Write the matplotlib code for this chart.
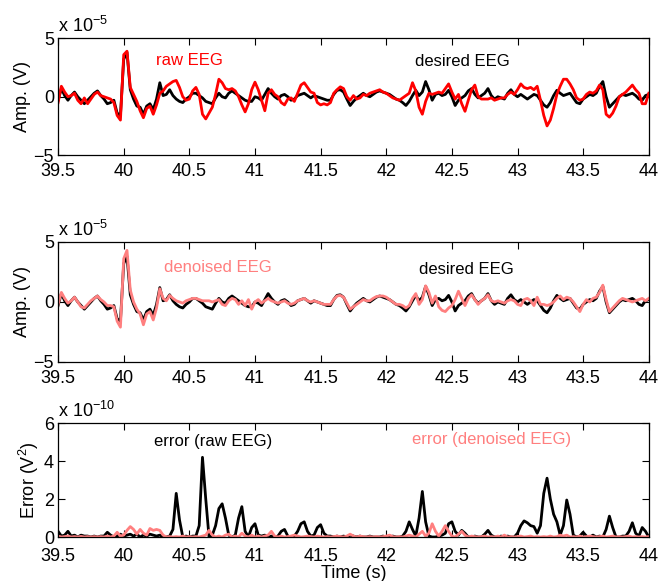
import numpy as np
import matplotlib
matplotlib.use('Agg')
import matplotlib.pyplot as plt

plt.rcParams['font.family'] = ['Liberation Sans', 'DejaVu Sans']
plt.rcParams['mathtext.fontset'] = 'custom'
plt.rcParams['mathtext.rm'] = 'Liberation Sans'
plt.rcParams['mathtext.it'] = 'Liberation Sans:italic'
plt.rcParams['lines.solid_joinstyle'] = 'round'

# sampled every 25 ms from 39.5 s to 44 s
t_start = 39.5
t_step = 0.025

# amplitudes in units of 1e-5 V
desired_eeg = [
    -0.3, 0.7, 0.1, -0.3, 0.1, 0.4, 0.0, -0.3, -0.6, -0.3,
    0.0, 0.3, 0.5, 0.1, -0.2, -0.6, -0.5, -0.3, -1.4, -1.6,
    3.2, 3.8, 0.6, -0.2, -0.8, -0.9, -1.5, -0.8, -0.6, -1.1,
    -0.2, 1.2, 0.1, 0.2, 0.6, 0.1, -0.2, -0.4, -0.5, -0.2,
    0.0, 0.3, 0.3, 0.1, -0.1, -0.4, -0.5, -0.6, -0.1, 0.3,
    0.0, -0.1, 0.3, 0.5, 0.3, 0.1, -0.1, -0.3, -0.4, -0.4,
    0.0, -0.1, -0.3, 0.2, 0.7, 0.3, 0.0, -0.2, 0.1, 0.2,
    0.0, -0.3, -0.2, 0.1, 0.2, 0.3, 0.1, -0.1, 0.1, 0.0,
    -0.1, -0.2, -0.3, -0.3, 0.2, 0.55, 0.6, 0.4, -0.2, -0.75,
    -0.4, -0.1, 0.1, 0.3, 0.1, 0.0, 0.2, 0.4, 0.5, 0.4,
    0.3, 0.2, 0.0, -0.2, -0.3, -0.5, -0.75, -0.4, 0.1, 0.55,
    0.1, 0.4, 1.3, 0.6, -0.3, 0.2, 0.3, 0.1, 0.2, 0.55,
    0.0, -0.75, -0.3, -0.1, 0.1, 0.5, 0.7, 0.2, -0.1, 0.1,
    0.3, 0.7, 0.1, -0.2, 0.0, -0.1, -0.2, 0.3, 0.6, 0.2,
    0.0, 0.2, 0.0, -0.2, 0.0, 0.2, 0.1, -0.3, -0.7, -0.9,
    -0.5, 0.1, 0.55, 0.3, 0.1, 0.2, 0.3, -0.1, -0.5, -0.6,
    -0.2, 0.0, 0.2, 0.1, 0.3, 0.9, 1.3, 0.0, -0.9, -0.6,
    -0.3, 0.0, 0.2, 0.1, 0.2, 0.3, 0.1, -0.2, -0.3, 0.1,
    0.2,
]

raw_eeg = [
    -0.5, 0.9, 0.4, 0.0, 0.1, 0.3, -0.3, -0.6, -0.1, -0.6,
    -0.2, 0.2, 0.4, 0.1, 0.0, -0.1, -0.2, -0.5, -1.6, -2.0,
    3.6, 3.9, 0.8, 0.2, -0.4, -1.2, -1.8, -1.0, -0.8, -1.5,
    -0.7, 0.3, 0.5, 0.9, 1.1, 1.3, 1.4, 0.8, 0.0, -0.3,
    -0.2, 0.5, 0.8, 0.2, -1.5, -1.9, -1.4, -0.9, 0.2, 1.5,
    1.2, 0.7, 0.6, 0.7, 0.5, 0.0, -0.7, -1.3, -0.6, 0.6,
    1.25, 0.6, -0.3, -1.2, 0.3, 0.6, 0.2, 0.0, -0.5, -0.7,
    -0.2, -0.1, -0.4, 0.3, 1.0, 1.2, 0.8, 0.4, 0.3, -0.5,
    -0.7, -0.6, -0.7, -0.5, 0.3, 0.6, 0.85, 0.7, 0.0, -0.3,
    0.1, -0.2, -0.1, 0.2, 0.1, 0.3, 0.4, 0.5, 0.6, 0.4,
    0.3, 0.1, -0.1, -0.2, -0.3, -0.1, 0.1, 0.3, 1.2, 0.5,
    -0.9, -1.5, -0.4, 0.3, 0.2, 0.3, 0.4, 0.3, 0.7, 1.1,
    0.4, -0.2, 0.2, -0.6, -1.25, -0.3, 0.6, 1.0, 0.0, -0.2,
    -0.2, -0.2, -0.1, -0.3, -0.2, -0.1, -0.1, 0.2, 0.4, 0.2,
    0.6, 1.1, 0.8, 0.7, 0.8, 0.6, 0.9, -0.3, -1.6, -2.5,
    -2.0, -1.0, 0.2, 0.9, 1.5, 1.5, 1.1, 0.6, -0.1, -0.3,
    -0.2, 0.2, 0.4, 0.3, 0.5, 1.0, 0.6, -1.5, -1.75, -1.4,
    -0.8, 0.0, 0.2, 0.4, 0.7, 1.0, 0.6, 0.3, -0.6, -0.6,
    0.3,
]

denoised_eeg = [
    -0.2, 0.8, 0.3, -0.1, 0.1, 0.4, 0.0, -0.4, -0.5, -0.2,
    0.1, 0.3, 0.5, 0.2, 0.0, -0.3, -0.3, -0.4, -1.6, -2.1,
    3.6, 4.3, 1.0, 0.0, -0.6, -1.0, -1.9, -1.0, -0.8, -1.5,
    -0.5, 1.1, 0.3, 0.1, 0.55, 0.3, 0.1, 0.0, -0.1, 0.1,
    0.2, 0.3, 0.3, 0.2, 0.1, 0.1, 0.1, 0.0, 0.1, 0.2,
    -0.2, -0.3, 0.1, 0.3, 0.2, -0.2, 0.1, -0.3, 0.2, -0.6,
    0.0, 0.2, -0.1, 0.1, 0.3, 0.1, 0.0, -0.1, 0.0, 0.1,
    -0.1, -0.2, -0.1, 0.1, 0.2, 0.3, 0.1, 0.0, 0.1, 0.0,
    -0.1, -0.2, -0.2, -0.2, 0.2, 0.5, 0.55, 0.4, -0.1, -0.6,
    -0.4, -0.2, 0.0, 0.2, 0.1, 0.1, 0.3, 0.45, 0.5, 0.5,
    0.4, 0.2, 0.0, -0.2, -0.2, -0.3, -0.5, -0.3, 0.3, 0.7,
    -0.2, 0.2, 1.35, 0.8, -0.1, 0.5, -0.4, -0.7, -0.8, -0.5,
    -0.3, 0.2, 0.9, 0.3, -0.3, 0.3, 0.6, 0.2, -0.2, 0.1,
    0.3, 0.6, 0.1, 0.0, 0.1, 0.0, -0.1, 0.1, 0.2, 0.1,
    -0.2, -0.3, 0.2, 0.3, 0.1, -0.3, 0.4, -0.2, -0.2, -0.3,
    -0.2, 0.0, 0.3, 0.5, 0.2, 0.4, 0.3, 0.0, -0.4, -0.8,
    -0.2, 0.2, 0.0, 0.3, 0.4, 0.8, 1.4, 0.2, -0.8, -0.5,
    -0.2, 0.1, 0.3, 0.2, 0.1, 0.0, 0.1, 0.2, 0.3, 0.1,
    0.3,
]

# squared errors in units of 1e-10 V^2
error_raw = [
    0.3, 0.05, 0.1, 0.3, 0.05, 0.1, 0.0, 0.1, 0.05, 0.05,
    0.0, 0.05, 0.0, 0.05, 0.05, 0.25, 0.1, 0.0, 0.05, 0.15,
    0.05, 0.1, 0.15, 0.05, 0.15, 0.0, 0.1, 0.05, 0.15, 0.1,
    0.05, 0.1, 0.0, 0.0, 0.05, 0.4, 2.3, 0.9, 0.0, 0.05,
    0.0, 0.05, 0.05, 0.6, 4.2, 2.0, 0.0, 0.1, 0.6, 1.5,
    1.75, 1.0, 0.1, 0.0, 0.1, 1.0, 1.6, 0.3, 0.0, 0.5,
    0.7, 0.1, 0.05, 0.1, 0.0, 0.05, 0.0, 0.05, 0.3, 0.4,
    0.05, 0.0, 0.05, 0.3, 0.7, 0.8, 0.3, 0.05, 0.1, 0.5,
    0.65, 0.2, 0.05, 0.05, 0.0, 0.05, 0.0, 0.05, 0.0, 0.1,
    0.05, 0.0, 0.05, 0.0, 0.0, 0.05, 0.0, 0.0, 0.0, 0.05,
    0.0, 0.0, 0.05, 0.0, 0.0, 0.05, 0.3, 0.8, 0.4, 0.05,
    1.0, 2.4, 0.8, 0.05, 0.0, 0.0, 0.05, 0.1, 0.2, 0.7,
    0.8, 0.3, 0.1, 0.35, 0.2, 0.0, 0.0, 0.05, 0.0, 0.0,
    0.15, 0.35, 0.1, 0.0, 0.0, 0.05, 0.0, 0.05, 0.0, 0.0,
    0.2, 0.6, 0.85, 0.75, 0.6, 0.55, 0.2, 0.6, 2.3, 3.1,
    2.0, 1.2, 0.8, 0.1, 0.6, 1.95, 1.2, 0.1, 0.0, 0.05,
    0.25, 0.05, 0.0, 0.1, 0.0, 0.05, 0.0, 0.4, 1.1, 0.5,
    0.0, 0.0, 0.05, 0.05, 0.3, 0.75, 0.2, 0.05, 0.5, 0.3,
    0.0,
]

error_denoised = [
    0.05, 0.0, 0.02, 0.05, 0.0, 0.02, 0.0, 0.03, 0.0, 0.02,
    0.0, 0.02, 0.0, 0.02, 0.0, 0.05, 0.0, 0.05, 0.25, 0.05,
    0.1, 0.35, 0.55, 0.4, 0.15, 0.4, 0.2, 0.1, 0.45, 0.35,
    0.4, 0.35, 0.1, 0.0, 0.02, 0.0, 0.02, 0.0, 0.05, 0.0,
    0.02, 0.0, 0.02, 0.0, 0.05, 0.1, 0.35, 0.1, 0.0, 0.05,
    0.0, 0.1, 0.15, 0.0, 0.05, 0.0, 0.2, 0.05, 0.0, 0.1,
    0.0, 0.05, 0.0, 0.05, 0.1, 0.3, 0.05, 0.0, 0.05, 0.0,
    0.02, 0.05, 0.1, 0.05, 0.0, 0.02, 0.05, 0.02, 0.0, 0.05,
    0.02, 0.0, 0.02, 0.0, 0.02, 0.05, 0.02, 0.0, 0.05, 0.15,
    0.05, 0.0, 0.05, 0.02, 0.0, 0.02, 0.0, 0.02, 0.0, 0.02,
    0.05, 0.1, 0.02, 0.0, 0.02, 0.0, 0.05, 0.1, 0.05, 0.0,
    0.15, 0.3, 0.05, 0.2, 0.7, 0.3, 0.05, 0.3, 0.6, 0.3,
    0.05, 0.0, 0.15, 0.3, 0.1, 0.0, 0.05, 0.02, 0.0, 0.02,
    0.05, 0.0, 0.02, 0.0, 0.05, 0.0, 0.1, 0.0, 0.02, 0.0,
    0.02, 0.05, 0.0, 0.02, 0.05, 0.0, 0.02, 0.0, 0.02, 0.0,
    0.05, 0.0, 0.02, 0.1, 0.05, 0.1, 0.0, 0.02, 0.0, 0.05,
    0.0, 0.02, 0.05, 0.02, 0.0, 0.02, 0.05, 0.0, 0.02, 0.05,
    0.0, 0.02, 0.0, 0.02, 0.05, 0.0, 0.02, 0.0, 0.02, 0.0,
    0.02,
]

x_ticks = [39.5, 40, 40.5, 41, 41.5, 42, 42.5, 43, 43.5, 44]
x_ticklabels = ['39.5', '40', '40.5', '41', '41.5', '42', '42.5', '43', '43.5', '44']

RED = '#ff0000'
PINK = '#ff7f7f'
FS = 13


def style_axes(ax, yticks, ylim, exponent, ylabel, xpad=6):
    ax.set_xlim(39.5, 44)
    ax.set_ylim(*ylim)
    ax.set_xticks(x_ticks)
    ax.set_xticklabels(x_ticklabels)
    ax.set_yticks(yticks)
    ax.tick_params(direction='in', top=True, right=True, length=5,
                   width=0.8, labelsize=FS)
    ax.tick_params(axis='x', pad=xpad)
    ax.tick_params(axis='y', pad=3)
    for s in ax.spines.values():
        s.set_linewidth(0.9)
    ax.set_ylabel(ylabel, fontsize=FS, labelpad=2)
    ax.text(0.0, 1.02, r'x 10$^{\mathregular{%s}}$' % exponent, transform=ax.transAxes,
            ha='left', va='bottom', fontsize=FS)


t = t_start + t_step * np.arange(len(desired_eeg))
des = np.array(desired_eeg)
raw = np.array(raw_eeg)
den = np.array(denoised_eeg)
e_raw = np.array(error_raw)
e_den = np.array(error_denoised)

fig = plt.figure(figsize=(6.6, 5.81), dpi=100)

ax1 = fig.add_axes([0.088, 0.733, 0.895, 0.201])
ax1.plot(t, des, color='black', linewidth=2)
ax1.plot(t, raw, color=RED, linewidth=2)
ax1.text(40.5, 3.1, 'raw EEG', color=RED, fontsize=12, ha='center', va='center')
ax1.text(42.58, 3.0, 'desired EEG', color='black', fontsize=12, ha='center', va='center')
style_axes(ax1, [-5, 0, 5], (-5, 5), '\u22125', 'Amp. (V)')

ax2 = fig.add_axes([0.088, 0.377, 0.895, 0.2065])
ax2.plot(t, des, color='black', linewidth=2)
ax2.plot(t, den, color=PINK, linewidth=2)
ax2.text(40.72, 2.9, 'denoised EEG', color=PINK, fontsize=12, ha='center', va='center')
ax2.text(42.61, 2.7, 'desired EEG', color='black', fontsize=12, ha='center', va='center')
style_axes(ax2, [-5, 0, 5], (-5, 5), '\u22125', 'Amp. (V)')

ax3 = fig.add_axes([0.088, 0.0757, 0.895, 0.196])
ax3.plot(t, e_raw, color='black', linewidth=2)
ax3.plot(t, e_den, color=PINK, linewidth=2)
ax3.text(40.68, 5.05, 'error (raw EEG)', color='black', fontsize=12, ha='center', va='center')
ax3.text(42.8, 5.15, 'error (denoised EEG)', color=PINK, fontsize=12, ha='center', va='center')
style_axes(ax3, [0, 2, 4, 6], (0, 6), '\u221210', r'Error (V$^{\mathregular{2}}$)', xpad=8)
ax3.set_xlabel('Time (s)', fontsize=FS, labelpad=0)

fig.savefig('out.png', dpi=100)
